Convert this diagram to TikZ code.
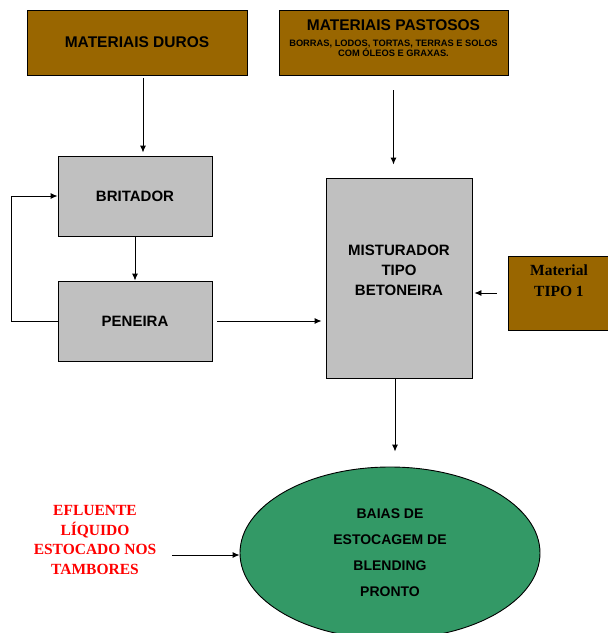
\documentclass[tikz,border=0pt]{standalone}
\usepackage{fontspec}
\setmainfont{Liberation Sans}
\newfontfamily\timesfont{Liberation Serif}
\usetikzlibrary{arrows,arrows.meta,shapes.geometric}
\definecolor{marrom}{HTML}{996600}
\definecolor{cinza}{HTML}{C0C0C0}
\definecolor{verde}{HTML}{339966}
\tikzstyle{materia} = [align=center,draw=black,fill=marrom,rectangle,text centered,font=\bfseries\fontsize{15.5}{17}\selectfont]
\tikzstyle{etapa} = [align=center,draw=black,fill=cinza,rectangle,text centered,font=\bfseries\fontsize{15}{20}\selectfont]
\tikzstyle{baia} = [align=center,draw=black,fill=verde,ellipse,inner sep=0pt,text centered,font=\bfseries\fontsize{14}{26}\selectfont]
\tikzstyle{nota} = [align=center,text=red,text centered,font=\timesfont\bfseries\fontsize{15.5}{19.5}\selectfont]

\begin{document}
\begin{tikzpicture}[x=1pt,y=-1pt,>={Latex[length=7pt,width=6pt]},line width=0.9pt]
				\useasboundingbox (0,0) rectangle (608,633);
				\node (duros) [materia,minimum width=220,minimum height=65] at (137,42.5) {MATERIAIS DUROS};
				\node (pastosos) [materia,minimum width=229,minimum height=65] at (393.5,42.5) {MATERIAIS PASTOSOS\\[-1pt]\fontsize{9.3}{10}\selectfont BORRAS, LODOS, TORTAS, TERRAS E SOLOS\\[-7pt]\fontsize{9.3}{10}\selectfont COM ÓLEOS E GRAXAS.\\[-8pt]};
				\node (britador) [etapa,minimum width=154,minimum height=80] at (135,196) {BRITADOR};
				\node (peneira) [etapa,minimum width=154,minimum height=80] at (135,321) {PENEIRA};
				\node (misturador) [etapa,minimum width=146,minimum height=200] at (399,278) {MISTURADOR\\TIPO\\BETONEIRA\\[-4pt]};
				\node (tipo) [materia,minimum width=102,minimum height=74,
					label={[anchor=north,align=center,yshift=-5pt,font=\timesfont\bfseries\fontsize{15.5}{21}\selectfont]north:Material\\TIPO 1}] at (559,293) {};
				\node (baia) [baia,minimum width=300,minimum height=172] at (390,553) {BAIAS DE\\ESTOCAGEM DE\\BLENDING\\PRONTO};
				\node (efluente) [nota] at (95,540) {EFLUENTE\\LÍQUIDO\\ESTOCADO NOS\\TAMBORES};
				\coordinate (eflsaida) at (172,555);
				\draw [->,shorten <=3pt,shorten >=3pt] ([xshift=6pt]duros.south) -- ([xshift=6pt]duros.south |- britador.north);
				\draw [->] (britador) -- (peneira);
				\draw [->] (peneira.west) -- ++(-46,0) |- (britador.west);
				\draw [->,shorten <=5pt,shorten >=4pt] (peneira.east) -- (peneira.east -| misturador.west);
				\draw [->,shorten <=15pt,shorten >=13pt] (pastosos.south) -- (pastosos.south |- misturador.north);
				\draw [->,shorten <=11pt,shorten >=2pt] (tipo.west) -- (tipo.west -| misturador.east);
				\draw [->,shorten >=15pt] ([xshift=-4pt]misturador.south) -- ([xshift=-4pt]misturador.south |- baia.north);
				\draw [->] (eflsaida) -- (eflsaida -| baia.west);
			\end{tikzpicture}
\end{document}
